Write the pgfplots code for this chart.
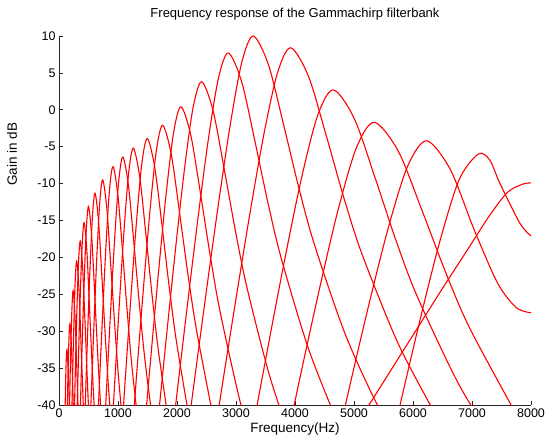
\documentclass[border=0pt]{standalone}
\usepackage{fontspec}
\setmainfont{Liberation Sans}
\usepackage{pgfplots}
\pgfplotsset{compat=1.18}

\begin{document}
\begin{tikzpicture}
\begin{axis}[
  scale only axis,
  width=472pt, height=369pt,
  xmin=0, xmax=8000, ymin=-40, ymax=10,
  axis x line*=bottom, axis y line*=left,
  axis line style={black!85, line width=0.6pt},
  tick style={black!85, line width=0.6pt},
  tick align=inside,
  major tick length=4pt,
  xtick={0,1000,...,8000}, ytick={-40,-35,...,10},
  scaled x ticks=false,
  /pgf/number format/1000 sep={},
  /pgf/number format/assume math mode=true,
  ticklabel style={font=\fontsize{12.5}{14}\selectfont},
  title={Frequency response of the Gammachirp filterbank},
  title style={font=\fontsize{13}{15}\selectfont, at={(axis description cs:0.5,1)}, anchor=base, yshift=12.5pt},
  xlabel={Frequency(Hz)},
  xlabel style={font=\fontsize{13.5}{15}\selectfont, at={(axis description cs:0.5,0)}, anchor=base, yshift=-27pt},
  ylabel={Gain in dB},
  ylabel style={font=\fontsize{13.5}{15}\selectfont, at={(axis description cs:-0.089,0.68)}, anchor=base},
  filt/.style={color=red, line width=1.1pt, smooth, no marks},
]
% highest channel (folded at Nyquist)
\addplot[filt] coordinates {(5000,-43.2) (5254,-40.0) (5900,-31.8) (6500,-24.2) (6920,-19.0) (7300,-14.3) (7600,-11.2) (7850,-10.1) (8000,-9.9)};
\addplot[filt] coordinates {(5503,-49.8) (5824,-38.5) (6145,-27.6) (6466,-17.5) (6786,-9.4) (7107,-6.0) (7300,-6.8) (7475,-10.0) (7814,-15.4) (8000,-17.1)};
\addplot[filt] coordinates {(4628,-48.0) (4949,-36.7) (5270,-25.8) (5591,-15.7) (5911,-7.6) (6232,-4.2) (6633,-8.1) (7034,-16.2) (7435,-23.5) (7750,-26.8) (8000,-27.5)};
\addplot[filt] coordinates {(3840,-45.5) (4141,-34.2) (4442,-23.3) (4742,-13.2) (5043,-5.1) (5344,-1.7) (5750,-5.6) (6156,-13.7) (6562,-22.2) (6968,-29.7) (7780,-41.7)};
\addplot[filt] coordinates {(3333,-41.1) (3597,-29.8) (3860,-18.9) (4123,-8.8) (4387,-0.7) (4650,2.7) (5005,-1.2) (5361,-9.3) (5716,-17.8) (6072,-25.3) (6783,-37.3) (7494,-46.5)};
\addplot[filt] coordinates {(2581,-46.9) (2805,-35.4) (3030,-24.1) (3254,-13.2) (3478,-3.1) (3703,5.0) (3927,8.4) (4230,4.5) (4533,-3.6) (4835,-12.1) (5138,-19.6) (5744,-31.6) (6349,-40.8)};
\addplot[filt] coordinates {(2153,-45.3) (2343,-33.8) (2533,-22.5) (2723,-11.6) (2913,-1.5) (3103,6.6) (3293,10.0) (3550,6.1) (3806,-2.0) (4063,-10.5) (4319,-18.0) (4832,-30.0) (5346,-39.2) (5859,-46.6)};
\addplot[filt] coordinates {(1866,-47.6) (2034,-36.1) (2201,-24.8) (2368,-13.9) (2535,-3.8) (2703,4.3) (2870,7.7) (3096,3.8) (3322,-4.3) (3547,-12.8) (3773,-20.3) (4225,-32.3) (4676,-41.5)};
\addplot[filt] coordinates {(1561,-51.5) (1704,-40.0) (1847,-28.7) (1989,-17.8) (2132,-7.7) (2275,0.4) (2418,3.8) (2611,-0.1) (2804,-8.2) (2997,-16.7) (3189,-24.2) (3575,-36.2) (3961,-45.4)};
\addplot[filt] coordinates {(1448,-43.4) (1572,-32.1) (1696,-21.2) (1820,-11.1) (1944,-3.0) (2068,0.4) (2235,-3.5) (2403,-11.6) (2570,-20.1) (2737,-27.6) (3072,-39.6) (3407,-48.8)};
\addplot[filt] coordinates {(1221,-45.9) (1328,-34.6) (1436,-23.7) (1543,-13.6) (1650,-5.5) (1757,-2.1) (1902,-6.0) (2046,-14.1) (2191,-22.6) (2336,-30.1) (2625,-42.1)};
\addplot[filt] coordinates {(1031,-47.7) (1124,-36.4) (1218,-25.5) (1311,-15.4) (1404,-7.3) (1497,-3.9) (1623,-7.8) (1749,-15.9) (1874,-24.4) (2000,-31.9) (2252,-43.9)};
\addplot[filt] coordinates {(858,-49.0) (939,-37.7) (1019,-26.8) (1099,-16.7) (1180,-8.6) (1260,-5.2) (1368,-9.1) (1477,-17.2) (1585,-25.7) (1694,-33.2) (1911,-45.2)};
\addplot[filt] coordinates {(728,-50.2) (799,-38.9) (870,-28.0) (940,-17.9) (1011,-9.8) (1082,-6.4) (1178,-10.3) (1273,-18.4) (1369,-26.9) (1464,-34.4) (1655,-46.4)};
\addplot[filt] coordinates {(606,-51.5) (668,-40.2) (730,-29.3) (791,-19.2) (853,-11.1) (915,-7.7) (998,-11.6) (1082,-19.7) (1165,-28.2) (1248,-35.7) (1415,-47.7)};
\addplot[filt] coordinates {(531,-42.0) (583,-31.1) (635,-21.0) (688,-12.9) (740,-9.5) (811,-13.4) (881,-21.5) (952,-30.0) (1022,-37.5) (1164,-49.5)};
\addplot[filt] coordinates {(429,-43.8) (474,-32.9) (519,-22.8) (565,-14.7) (610,-11.3) (671,-15.2) (732,-23.3) (793,-31.8) (854,-39.3) (977,-51.3)};
\addplot[filt] coordinates {(343,-45.6) (382,-34.7) (421,-24.6) (461,-16.5) (500,-13.1) (553,-17.0) (606,-25.1) (659,-33.6) (712,-41.1)};
\addplot[filt] coordinates {(284,-47.8) (319,-36.9) (354,-26.8) (390,-18.7) (425,-15.3) (473,-19.2) (520,-27.3) (568,-35.8) (616,-43.3)};
\addplot[filt] coordinates {(233,-50.3) (265,-39.4) (296,-29.3) (328,-21.2) (360,-17.8) (403,-21.7) (446,-29.8) (489,-38.3) (532,-45.8)};
\addplot[filt] coordinates {(186,-53.0) (214,-42.1) (243,-32.0) (271,-23.9) (300,-20.5) (339,-24.4) (377,-32.5) (416,-41.0)};
\addplot[filt] coordinates {(164,-46.1) (189,-36.0) (215,-27.9) (240,-24.5) (274,-28.4) (308,-36.5) (342,-45.0)};
\addplot[filt] coordinates {(118,-50.6) (140,-40.5) (163,-32.4) (185,-29.0) (215,-32.9) (245,-41.0)};
\addplot[filt] coordinates {(96,-44.0) (115,-35.9) (135,-32.5) (162,-36.4) (188,-44.5)};
\end{axis}
\pgfresetboundingbox
\path[use as bounding box] ([xshift=-59pt,yshift=-39pt]current axis.south west) rectangle ([xshift=14pt,yshift=36pt]current axis.north east);
\end{tikzpicture}
\end{document}
